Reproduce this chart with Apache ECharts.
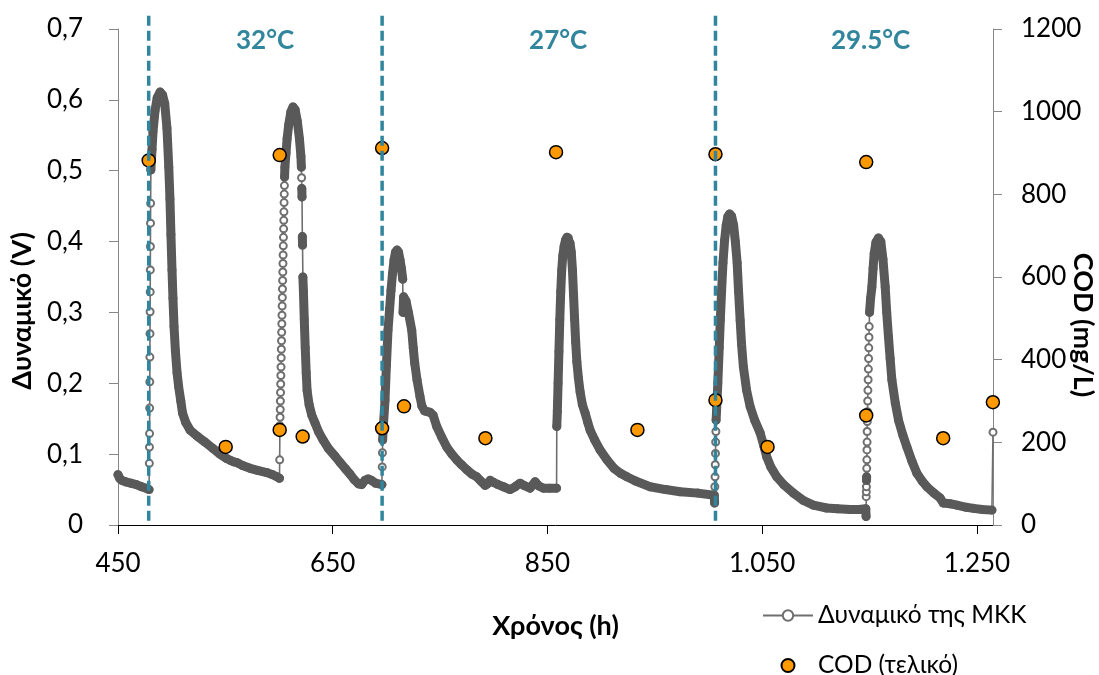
<!DOCTYPE html>
<html><head><meta charset="utf-8">
<script src="https://cdn.jsdelivr.net/npm/echarts@6/dist/echarts.min.js"></script>
<style>html,body{margin:0;padding:0;background:#fff}#c{width:1099px;height:675px}</style>
</head><body><div id="c"></div>
<script>
// ---- Data ----
const potentialHours = [
 450.0,451.5,453.5,457.0,462.0,467.0,472.0,476.0,478.9,
 479.2,479.3,479.4,479.5,479.6,479.7,479.8,479.9,480.0,480.1,480.2,480.3,480.4,480.6,
 481.7,482.6,484.5,486.5,489.2,491.5,493.5,495.6,497.3,498.4,499.3,500.3,501.2,502.2,503.5,505.0,506.5,508.5,510.1,
 513.0,517.1,524.0,531.0,538.5,545.0,551.0,555.0,558.0,561.0,566.0,573.0,580.0,588.5,594.0,598.1,600.4,
 600.6,600.80,600.95,601.10,601.25,601.40,601.55,601.70,601.85,602.00,602.15,602.30,602.45,602.60,602.75,602.90,
 603.05,603.20,603.35,603.50,603.65,603.80,603.95,604.10,604.25,604.40,604.55,604.70,604.85,605.00,605.15,605.45,
 606.5,607.5,609.0,611.0,613.0,615.0,617.0,619.0,620.4,620.8,621.0,621.2,621.4,621.7,621.9,622.2,622.7,623.5,624.4,625.3,626.1,
 628.0,630.5,633.5,637.0,641.0,646.0,652.2,657.0,662.0,666.0,670.0,674.0,677.0,680.0,683.0,686.0,690.0,695.8,
 696.1,696.3,696.5,697.0,698.7,700.0,701.5,703.0,704.3,705.7,707.1,708.5,709.9,711.3,712.7,714.0,715.2,715.5,716.0,718.3,
 720.5,723.6,725.0,726.4,728.5,731.3,733.0,735.5,738.0,740.7,743.5,746.9,751.5,756.2,761.0,765.5,770.0,774.9,779.5,784.2,
 788.0,791.9,794.0,796.6,800.0,804.0,809.0,815.2,820.0,824.5,828.0,833.8,838.5,842.0,846.2,852.0,858.5,
 858.7,859.2,859.9,860.7,861.5,862.4,863.3,864.3,865.5,866.8,868.2,869.6,871.0,872.2,873.3,874.3,875.3,876.3,877.4,878.8,
 880.4,882.5,885.1,887.5,889.7,894.0,899.0,905.5,912.0,918.0,924.0,932.0,945.6,960.0,973.6,990.0,1005.4,
 1005.7,1005.9,1006.1,1006.3,1006.5,1006.7,1006.9,1007.1,1008.7,1010.0,1011.0,1012.2,1013.5,1015.0,1016.5,1018.0,1019.7,
 1021.5,1023.4,1025.0,1026.7,1028.0,1029.5,1030.8,1032.5,1035.5,1038.8,1043.0,1048.1,1051.5,1054.3,1058.0,1063.6,1070.0,
 1079.1,1088.0,1097.7,1110.0,1120.0,1132.0,1140.0,1146.5,
 1146.8,1146.9,1147.0,1147.1,1147.2,1147.3,1147.4,1147.5,1147.6,1147.7,1147.8,1147.9,1148.1,1148.3,1148.5,1148.7,1148.9,
 1149.1,1149.3,1149.5,1149.7,1150.0,1151.0,1152.2,1153.3,1154.3,1156.0,1158.3,1160.5,1162.5,1164.6,1166.0,1167.6,1169.2,
 1170.8,1174.0,1177.0,1181.0,1184.8,1189.5,1194.1,1199.0,1203.4,1210.0,1215.8,1218.6,1225.0,1231.4,1240.0,1246.8,1255.0,
 1264.0,1265.0
];
const potentialValues = [
 0.071,0.066,0.063,0.061,0.059,0.057,0.054,0.052,0.050,
 0.087,0.110,0.129,0.165,0.202,0.237,0.270,0.301,0.329,0.360,0.393,0.426,0.454,0.501,
 0.530,0.555,0.585,0.603,0.611,0.607,0.595,0.560,0.505,0.460,0.410,0.360,0.320,0.280,0.245,0.215,0.195,0.175,0.158,
 0.145,0.134,0.125,0.117,0.108,0.100,0.094,0.091,0.089,0.088,0.084,0.080,0.077,0.074,0.071,0.068,0.066,
 0.092,0.140,0.152,0.163,0.175,0.187,0.199,0.211,0.223,0.236,0.248,0.260,0.272,0.284,0.296,0.309,
 0.321,0.333,0.345,0.357,0.369,0.381,0.394,0.406,0.418,0.430,0.442,0.455,0.467,0.479,0.491,0.505,
 0.525,0.545,0.565,0.583,0.590,0.586,0.570,0.545,0.520,0.505,0.490,0.475,0.463,0.407,0.395,0.350,0.330,0.290,0.250,0.215,0.190,
 0.170,0.155,0.144,0.131,0.120,0.108,0.097,0.088,0.079,0.072,0.064,0.058,0.057,0.063,0.065,0.063,0.059,0.057,
 0.082,0.102,0.120,0.135,0.176,0.225,0.275,0.305,0.331,0.355,0.374,0.385,0.388,0.385,0.374,0.362,0.347,0.300,0.322,0.316,
 0.300,0.275,0.250,0.228,0.205,0.181,0.168,0.161,0.160,0.159,0.155,0.139,0.124,0.110,0.100,0.092,0.085,0.078,0.072,0.068,
 0.062,0.056,0.058,0.063,0.060,0.057,0.054,0.050,0.054,0.059,0.056,0.052,0.061,0.055,0.052,0.052,0.052,
 0.139,0.160,0.200,0.245,0.290,0.330,0.360,0.380,0.393,0.402,0.406,0.405,0.398,0.385,0.360,0.325,0.290,0.258,0.230,0.208,
 0.188,0.170,0.158,0.145,0.134,0.120,0.106,0.092,0.080,0.073,0.068,0.062,0.054,0.050,0.047,0.045,0.042,
 0.031,0.054,0.068,0.085,0.101,0.117,0.132,0.148,0.200,0.250,0.289,0.330,0.370,0.402,0.423,0.435,0.439,
 0.436,0.423,0.400,0.370,0.330,0.289,0.255,0.223,0.190,0.167,0.148,0.130,0.112,0.096,0.082,0.068,0.057,
 0.045,0.035,0.028,0.024,0.023,0.022,0.022,0.023,
 0.012,0.040,0.047,0.054,0.063,0.068,0.080,0.092,0.106,0.117,0.132,0.146,0.160,0.175,0.190,0.205,0.220,
 0.235,0.250,0.265,0.280,0.300,0.320,0.336,0.362,0.383,0.399,0.405,0.400,0.375,0.336,0.300,0.266,0.235,
 0.205,0.172,0.148,0.127,0.110,0.090,0.073,0.062,0.054,0.045,0.038,0.031,0.030,0.028,0.025,0.0235,0.022,
 0.021,0.131
];
const codHours  = [478.6, 550.3, 600.6, 600.6, 622.0, 696.0, 696.0, 716.4, 792.2, 858.0, 933.8, 1006.5, 1006.5, 1055.0, 1146.9, 1146.9, 1218.6, 1264.9];
const codValues = [882,   189,   895,   230,   214,   912,   234,   287,   210,   902,   230,   897,    302,    189,    878,    265,    210,    297];
const phaseStartHours = [478.6, 696.0, 1006.5];
const phaseLabels = ['32°C', '27°C', '29.5°C'];
const phaseLabelHours = [587, 860, 1151];
const xTickInterval = 200;
const seriesNames = ['Δυναμικό της ΜΚΚ', 'COD (τελικό)'];
const axisTitles = { x: 'Χρόνος (h)', left: 'Δυναμικό (V)', right: 'COD (mg/L)' };

// ---- Build ----
const FONT = 'Lato';
const potential = potentialHours.map((h, i) => [h, potentialValues[i]]);
const band = [];
for (let i = 0; i < potential.length; i++) {
  band.push(potential[i]);
  if (i < potential.length - 1) {
    const s = Math.abs(potential[i+1][1] - potential[i][1]) / (potential[i+1][0] - potential[i][0]);
    if (s > 0.065) band.push([(potential[i][0] + potential[i+1][0]) / 2, '-']);
  }
}
const cod = codHours.map((h, i) => [h, codValues[i]]);
const phaseLine = [];
phaseStartHours.forEach(h => { phaseLine.push([h, 0.006], [h, 0.72], [h + 0.01, '-']); });
const teal = '#31859C';

const chart = echarts.init(document.getElementById('c'));
chart.setOption({
  animation: false,
  backgroundColor: '#fff',
  grid: { left: 118, right: 106, top: 29, bottom: 150, containLabel: false, outerBoundsMode: 'none' },
  legend: {
    data: seriesNames,
    orient: 'vertical', left: 757, top: 598, height: 80,
    itemWidth: 50, itemHeight: 13, itemGap: 25,
    textStyle: { fontFamily: FONT, fontSize: 24.5, lineHeight: 22, color: '#000' }
  },
  graphic: [{
    type: 'text', x: 1083, y: 325, rotation: -Math.PI / 2, silent: true,
    style: { text: axisTitles.right, fontFamily: FONT, fontSize: 27, fontWeight: 'bold',
      fill: '#000', align: 'center', verticalAlign: 'middle' }
  }],
  xAxis: {
    type: 'value', min: 450, max: 1265, interval: xTickInterval,
    name: axisTitles.x, nameLocation: 'middle', nameGap: 88,
    nameTextStyle: { fontFamily: FONT, fontSize: 27, fontWeight: 'bold', color: '#000' },
    axisLine: { show: true, lineStyle: { color: '#000', width: 1 } },
    axisTick: { show: true, inside: false, length: 9, lineStyle: { color: '#000' } },
    axisLabel: { margin: 26, fontFamily: FONT, fontSize: 26, color: '#000',
      formatter: v => v >= 1000 ? Math.floor(v / 1000) + '.' + String(v % 1000).padStart(3, '0') : String(v) },
    splitLine: { show: false }
  },
  yAxis: [{
    type: 'value', min: 0, max: 0.7, interval: 0.1, position: 'left',
    name: axisTitles.left, nameLocation: 'middle', nameGap: 80,
    nameTextStyle: { fontFamily: FONT, fontSize: 27, fontWeight: 'bold', color: '#000', padding: [0, 68, 0, 0] },
    axisLine: { show: true, lineStyle: { color: '#868686', width: 1 } },
    axisTick: { show: true, inside: false, length: 9, lineStyle: { color: '#868686' } },
    axisLabel: { margin: 35, fontFamily: FONT, fontSize: 26, color: '#000',
      formatter: v => v === 0 ? '0' : v.toFixed(1).replace('.', ',') },
    splitLine: { show: false }
  }, {
    type: 'value', min: 0, max: 1200, interval: 200, position: 'right',
    axisLine: { show: true, lineStyle: { color: '#868686', width: 1 } },
    axisTick: { show: true, inside: false, length: 9, lineStyle: { color: '#868686' } },
    axisLabel: { margin: 28, fontFamily: FONT, fontSize: 26, color: '#000', formatter: v => String(v) },
    splitLine: { show: false }
  }],
  series: [{
    name: seriesNames[0], type: 'line', data: potential, z: 2,
    symbol: 'emptyCircle', symbolSize: 7, showAllSymbol: true,
    lineStyle: { color: '#6f6f6f', width: 1.6 },
    itemStyle: { color: '#6f6f6f', borderWidth: 1.5 }
  }, {
    name: 'band', type: 'line', data: band, z: 3, silent: true, symbol: 'none',
    lineStyle: { color: '#595959', width: 9, cap: 'round', join: 'round' }
  }, {
    name: seriesNames[1], type: 'scatter', yAxisIndex: 1, data: cod, z: 5,
    symbol: 'circle', symbolSize: 13,
    itemStyle: { color: '#FF9900', borderColor: '#000', borderWidth: 1.5, opacity: 1 }
  }, {
    name: 'phases', type: 'line', data: phaseLine, z: 6, clip: false, silent: true, symbol: 'none',
    lineStyle: { color: teal, width: 3.5, type: [10, 5] }
  }, {
    name: 'phaseLabels', type: 'scatter', z: 7, silent: true, symbolSize: 1,
    itemStyle: { color: 'rgba(0,0,0,0)', opacity: 1 },
    data: phaseLabelHours.map((h, i) => ({ value: [h, 0.684], name: phaseLabels[i] })),
    label: { show: true, position: 'inside', formatter: '{b}', color: teal, opacity: 1,
      fontFamily: FONT, fontSize: 26, fontWeight: 'bold' }
  }]
});
</script>
</body></html>
